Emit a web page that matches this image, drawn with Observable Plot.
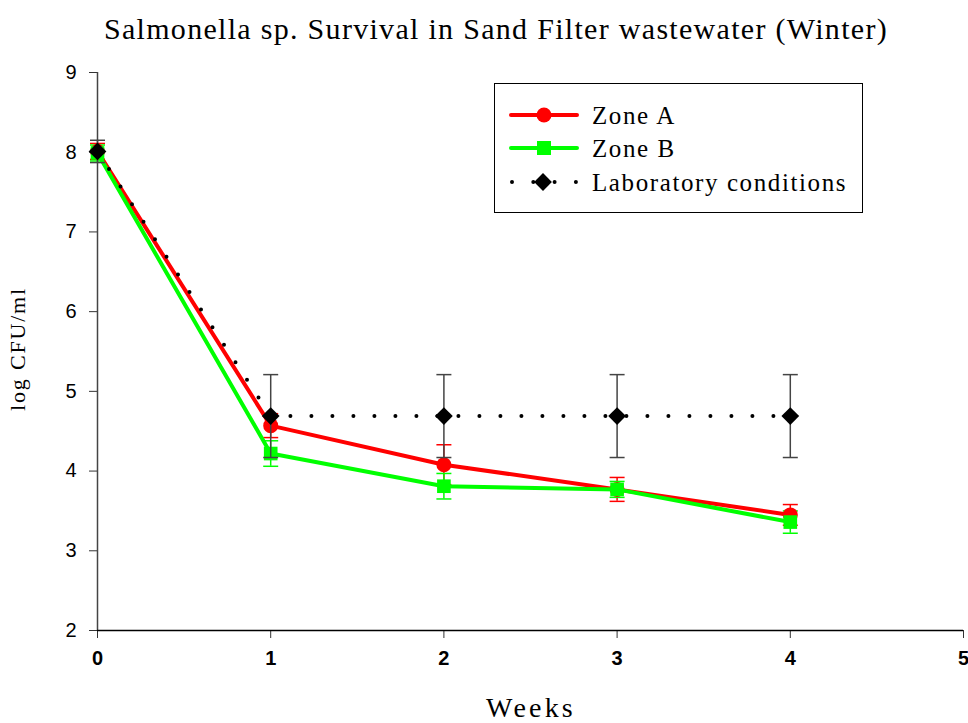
<!DOCTYPE html>
<html>
<head>
<meta charset="utf-8">
<script src="https://cdn.jsdelivr.net/npm/d3@7"></script>
<script src="https://cdn.jsdelivr.net/npm/@observablehq/plot@0.6"></script>
<style>
  html, body { margin: 0; padding: 0; background: #fff; }
  #chart { width: 968px; height: 723px; }
</style>
</head>
<body>
<div id="chart"></div>
<script>
const weeks = [0, 1, 2, 3, 4];
const zoneA = [8.01, 4.57, 4.08, 3.77, 3.45];
const zoneAErr = [0.1, 0.15, 0.25, 0.15, 0.13];
const zoneB = [7.99, 4.22, 3.81, 3.77, 3.36];
const zoneBErr = [0.1, 0.16, 0.16, 0.1, 0.14];
const lab = [8.01, 4.69, 4.69, 4.69, 4.69];
const labErr = [0.14, 0.52, 0.52, 0.52, 0.52];
const xTicks = [0, 1, 2, 3, 4, 5];
const yTicks = [2, 3, 4, 5, 6, 7, 8, 9];
const seriesNames = ["Zone A", "Zone B", "Laboratory conditions"];
const titleText = "Salmonella sp. Survival in Sand Filter wastewater (Winter)";
const xLabel = "Weeks";
const yLabel = "log CFU/ml";

const mk = (vals, errs) => weeks.map((w, i) => ({x: w, y: vals[i], e: errs[i]}));
const A = mk(zoneA, zoneAErr), B = mk(zoneB, zoneBErr), L = mk(lab, labErr);

const cap = {draw(ctx, size) { const w = Math.sqrt(size / Math.PI); ctx.moveTo(-w, 0); ctx.lineTo(w, 0); }};
const serif = "'Liberation Serif', 'Times New Roman', serif";
const sans = "'Liberation Sans', Arial, sans-serif";

function errMarks(data, color, w) {
  return [
    Plot.ruleX(data, {x: "x", y1: d => d.y - d.e, y2: d => d.y + d.e, stroke: color, strokeWidth: w}),
    Plot.dot(data, {x: "x", y: d => d.y + d.e, symbol: cap, r: 7.5, stroke: color, strokeWidth: w, fill: "none"}),
    Plot.dot(data, {x: "x", y: d => d.y - d.e, symbol: cap, r: 7.5, stroke: color, strokeWidth: w, fill: "none"})
  ];
}

const plot = Plot.plot({
  width: 968,
  height: 723,
  marginLeft: 97,
  marginRight: 5,
  marginTop: 72,
  marginBottom: 93,
  style: {background: "#fff", fontFamily: sans, overflow: "visible"},
  x: {domain: [0, 5]},
  y: {domain: [2, 9]},
  marks: [
    Plot.axisY({ticks: yTicks, tickFormat: "d", tickSize: 8, tickPadding: 13, fontSize: 20, fontFamily: sans, stroke: "#333", color: "#000", label: null}),
    Plot.axisX({ticks: xTicks, tickFormat: "d", tickSize: 8, tickPadding: 12, fontSize: 20, fontWeight: "bold", fontFamily: sans, stroke: "#333", color: "#000", label: null}),
    Plot.ruleX([0], {stroke: "#444", strokeWidth: 1.5}),
    Plot.ruleY([2], {stroke: "#000", strokeWidth: 1.5}),
    ...errMarks(A, "#ff0000", 1.5),
    ...errMarks(B, "#00ff00", 1.5),
    Plot.line(A, {x: "x", y: "y", stroke: "#ff0000", strokeWidth: 4}),
    Plot.dot(A, {x: "x", y: "y", symbol: "circle", r: 7.5, fill: "#ff0000"}),
    Plot.line(B, {x: "x", y: "y", stroke: "#00ff00", strokeWidth: 4}),
    Plot.dot(B, {x: "x", y: "y", symbol: "square", r: 7.7, fill: "#00ff00"}),
    ...errMarks(L, "#444", 1.5),
    Plot.line(L, {x: "x", y: "y", stroke: "#000", strokeWidth: 4, strokeDasharray: "0 21", strokeLinecap: "round"}),
    Plot.dot(L, {x: "x", y: "y", symbol: "diamond2", r: 8, fill: "#000"})
  ]
});

const svg = d3.select(plot);
svg.append("text").attr("x", 496).attr("y", 38.5).attr("text-anchor", "middle")
  .attr("font-family", serif).attr("font-size", 30).attr("letter-spacing", 1.3).attr("fill", "#000").text(titleText);
svg.append("text").attr("x", 531).attr("y", 717).attr("text-anchor", "middle")
  .attr("font-family", serif).attr("font-size", 28).attr("letter-spacing", 3.2).attr("fill", "#000").text(xLabel);
svg.append("text").attr("transform", "translate(25,349) rotate(-90)").attr("text-anchor", "middle")
  .attr("font-family", serif).attr("font-size", 22).attr("letter-spacing", 1.8).attr("fill", "#000").text(yLabel);

// Legend
const lg = svg.append("g");
lg.append("rect").attr("x", 494.5).attr("y", 83.5).attr("width", 368).attr("height", 129)
  .attr("fill", "#fff").attr("stroke", "#000").attr("stroke-width", 1);
const rows = [115, 148, 182];
lg.append("line").attr("x1", 511).attr("x2", 577).attr("y1", rows[0]).attr("y2", rows[0]).attr("stroke", "#ff0000").attr("stroke-width", 4).attr("stroke-linecap", "round");
lg.append("circle").attr("cx", 544).attr("cy", rows[0]).attr("r", 7.5).attr("fill", "#ff0000");
lg.append("line").attr("x1", 511).attr("x2", 577).attr("y1", rows[1]).attr("y2", rows[1]).attr("stroke", "#00ff00").attr("stroke-width", 4).attr("stroke-linecap", "round");
lg.append("rect").attr("x", 537).attr("y", rows[1] - 7).attr("width", 14).attr("height", 14).attr("fill", "#00ff00");
lg.append("line").attr("x1", 512).attr("x2", 577).attr("y1", rows[2]).attr("y2", rows[2]).attr("stroke", "#000").attr("stroke-width", 4).attr("stroke-dasharray", "0 21.3").attr("stroke-linecap", "round");
lg.append("path").attr("d", d3.symbol(d3.symbolDiamond2, Math.PI * 64)()).attr("transform", `translate(543,${rows[2]})`).attr("fill", "#000");
seriesNames.forEach((n, i) => {
  lg.append("text").attr("x", 592).attr("y", rows[i]).attr("dy", "0.35em").attr("text-anchor", "start")
    .attr("font-family", serif).attr("font-size", 25).attr("letter-spacing", 1.6).attr("fill", "#000").text(n);
});

document.getElementById("chart").appendChild(plot);
</script>
</body>
</html>
